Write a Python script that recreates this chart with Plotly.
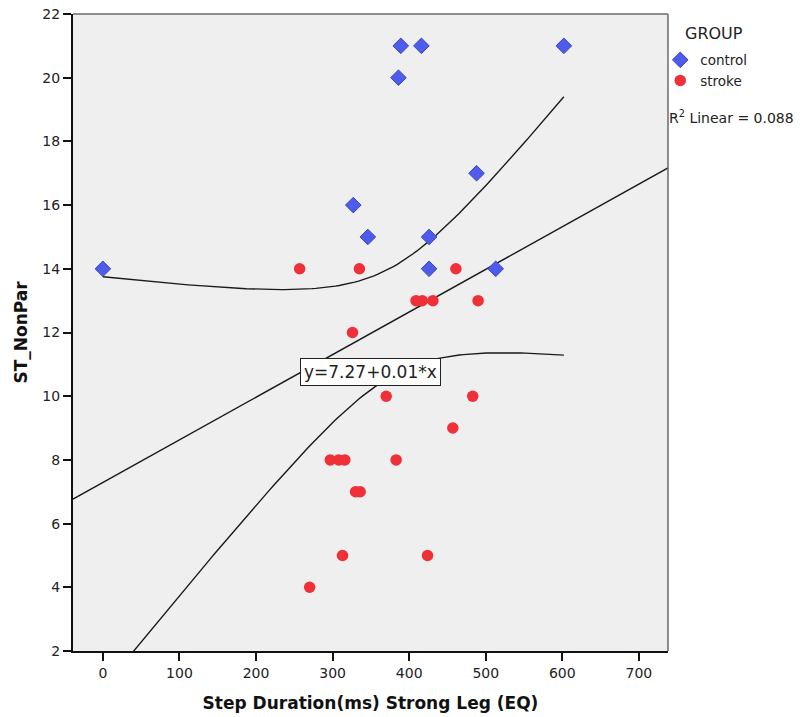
import numpy as np
import plotly.graph_objects as go

# ---- data ----
control_x = [0, 389, 416, 602, 386, 488, 327, 346, 426, 426, 513]
control_y = [14, 21, 21, 21, 20, 17, 16, 15, 15, 14, 14]

stroke_x = [257, 335, 461, 409, 417, 431, 490, 326, 370, 483, 457,
            297, 308, 316, 383, 330, 336, 313, 424, 270]
stroke_y = [14, 14, 14, 13, 13, 13, 13, 12, 10, 10, 9,
            8, 8, 8, 8, 7, 7, 5, 5, 4]

x_ticks = [0, 100, 200, 300, 400, 500, 600, 700]
y_ticks = [2, 4, 6, 8, 10, 12, 14, 16, 18, 20, 22]
x_range = [-39, 738]
y_range = [2, 22]

equation_label = "y=7.27+0.01*x"
r2_label = "R<sup>2</sup> Linear = 0.088"
legend_title = "GROUP"

# ---- linear fit and 95% mean confidence band from the data ----
all_x = np.array(control_x + stroke_x, dtype=float)
all_y = np.array(control_y + stroke_y, dtype=float)
n = len(all_x)
slope, intercept = np.polyfit(all_x, all_y, 1)
resid = all_y - (intercept + slope * all_x)
s = np.sqrt(np.sum(resid ** 2) / (n - 2))
xbar = all_x.mean()
sxx = np.sum((all_x - xbar) ** 2)
t_crit = 2.045  # t(0.975, df=29)

fit_x = np.array(x_range, dtype=float)
fit_y = intercept + slope * fit_x

ci_x = np.linspace(all_x.min(), all_x.max(), 120)
ci_center = intercept + slope * ci_x
ci_half = t_crit * s * np.sqrt(1 / n + (ci_x - xbar) ** 2 / sxx)

FONT = "DejaVu Sans"
TXT = "#222222"

fig = go.Figure()

for yy in (ci_center + ci_half, ci_center - ci_half):
    fig.add_trace(go.Scatter(x=ci_x, y=yy, mode="lines",
                             line=dict(color="#1a1a1a", width=1.4),
                             showlegend=False, hoverinfo="skip"))
fig.add_trace(go.Scatter(x=fit_x, y=fit_y, mode="lines",
                         line=dict(color="#1a1a1a", width=1.4),
                         showlegend=False, hoverinfo="skip"))

fig.add_trace(go.Scatter(x=control_x, y=control_y, mode="markers", name="control",
                         marker=dict(symbol="diamond", size=12, color="#4F5CEB",
                                     line=dict(color="#3A45C0", width=1))))
fig.add_trace(go.Scatter(x=stroke_x, y=stroke_y, mode="markers", name="stroke",
                         marker=dict(symbol="circle", size=11.5, color="#EF3039",
                                     line=dict(width=0))))

fig.add_annotation(x=350, y=10.76, xref="x", yref="y", text=equation_label,
                   showarrow=False, font=dict(family=FONT, size=17, color=TXT),
                   bgcolor="white", bordercolor="#222222", borderwidth=1, borderpad=3)

fig.add_annotation(x=0.998, y=0.838, xref="paper", yref="paper", text=r2_label,
                   showarrow=False, xanchor="left", yanchor="middle",
                   font=dict(family=FONT, size=14, color=TXT))

fig.add_annotation(x=1.025, y=0.970, xref="paper", yref="paper", text=legend_title,
                   showarrow=False, xanchor="left", yanchor="middle",
                   font=dict(family=FONT, size=16, color=TXT))

fig.update_layout(
    width=809, height=717,
    margin=dict(l=73, r=141, t=14, b=66),
    paper_bgcolor="white",
    plot_bgcolor="#EFEFEF",
    font=dict(family=FONT, size=14, color=TXT),
    legend=dict(x=0.987, y=0.952, xanchor="left", yanchor="top",
                bgcolor="rgba(0,0,0,0)", font=dict(family=FONT, size=13.5, color=TXT),
                itemwidth=30, tracegroupgap=0),
    xaxis=dict(range=x_range, tickvals=x_ticks, ticks="outside", ticklen=8,
               tickwidth=2, tickcolor="#111", showgrid=False, zeroline=False,
               showline=True, linecolor="#111", linewidth=2, mirror=False,
               automargin=False,
               tickfont=dict(family=FONT, size=14, color=TXT),
               title=dict(text="<b>Step Duration(ms) Strong Leg (EQ)</b>",
                          font=dict(family=FONT, size=17, color="#111"), standoff=17)),
    yaxis=dict(range=y_range, tickvals=y_ticks, ticks="outside", ticklen=8,
               tickwidth=2, tickcolor="#111", showgrid=False, zeroline=False,
               showline=True, linecolor="#111", linewidth=2, mirror=False,
               automargin=False,
               tickfont=dict(family=FONT, size=14, color=TXT),
               title=dict(text="<b>ST_NonPar</b>",
                          font=dict(family=FONT, size=17, color="#111"), standoff=10)),
)

# top and right frame (grey, thinner)
fig.add_shape(type="line", xref="paper", yref="paper", x0=0, x1=1, y0=1, y1=1,
              line=dict(color="#6b6b6b", width=1.5))
fig.add_shape(type="line", xref="paper", yref="paper", x0=1, x1=1, y0=0, y1=1,
              line=dict(color="#6b6b6b", width=1.5))

fig.write_html("out.html")
